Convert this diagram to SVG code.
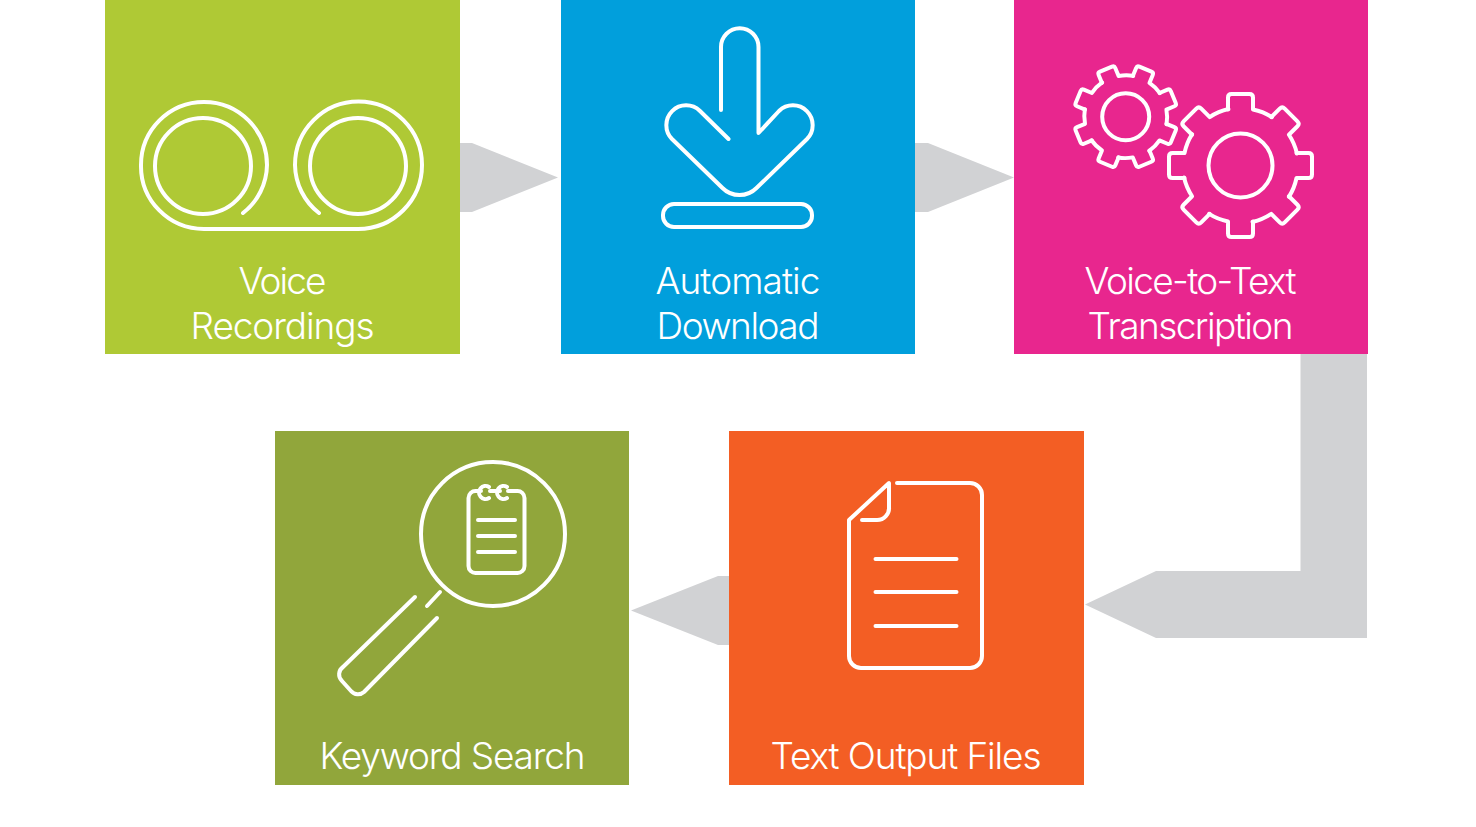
<svg xmlns="http://www.w3.org/2000/svg" width="1476" height="827" viewBox="0 0 1476 827">
<style>
.label{font-family:"Inter","Liberation Sans",sans-serif;font-weight:300;font-size:37px;fill:#fff;text-anchor:middle}
.ic{fill:none;stroke:#fff;stroke-width:4;stroke-linecap:round;stroke-linejoin:round}
.ar{fill:#d1d2d4}
</style>
<defs>
<path id="sector" d="M-12.5,-56 L-12.5,-68 Q-12.5,-71.5 -9,-71.5 L9,-71.5 Q12.5,-71.5 12.5,-68 L12.5,-56 A57 57 0 0 1 31.4,-48.4"/>
</defs>
<rect width="1476" height="827" fill="#fff"/>
<g id="connectors">
<polygon class="ar" points="460,143 472,143 558,177.500 472,212 460,212"/>
<polygon class="ar" points="915,143 928,143 1014,177.500 928,212 915,212"/>
<polygon class="ar" points="1300.500,354 1367,354 1367,638 1156,638 1085,604.500 1156,571 1300.500,571"/>
<polygon class="ar" points="729,576 718,576 631,610.500 718,645 729,645"/>
</g>
<g id="voice-recordings">
<rect x="105" y="0" width="355" height="354" fill="#afc935"/>
<path class="ic" d="M243,213 A62,62 0 0 0 267,165 A63,63 0 0 0 141,165 A63,63 0 0 0 204,229 L358,229 A64,64 0 0 0 422,165 A63.500,63.500 0 0 0 295,165 A62,62 0 0 0 319,213"/>
<circle class="ic" cx="203" cy="166" r="48"/>
<circle class="ic" cx="358" cy="166" r="48"/>
<text class="label" x="282.500" y="294" textLength="88">Voice</text>
<text class="label" x="282.500" y="339" textLength="184">Recordings</text>
</g>
<g id="automatic-download">
<rect x="561" y="0" width="354" height="354" fill="#019fdc"/>
<path class="ic" d="M721,110 L721,47 A18.750,18.750 0 0 1 758.500,47 L758.500,133 L779,111 A19.800,19.800 0 0 1 807,139 L756.500,188 A24,24 0 0 1 722.500,188 L672,139 A19.800,19.800 0 0 1 700,111 L728.500,139"/>
<rect class="ic" x="663" y="204" width="149" height="23" rx="11"/>
<text class="label" x="738" y="294" textLength="165">Automatic</text>
<text class="label" x="738" y="339" textLength="163">Download</text>
</g>
<g id="voice-to-text">
<rect x="1014" y="0" width="354" height="354" fill="#e8268e"/>
<g class="ic" transform="translate(1240.500,165.500)">
<use href="#sector"/>
<use href="#sector" transform="rotate(45)"/>
<use href="#sector" transform="rotate(90)"/>
<use href="#sector" transform="rotate(135)"/>
<use href="#sector" transform="rotate(180)"/>
<use href="#sector" transform="rotate(225)"/>
<use href="#sector" transform="rotate(270)"/>
<use href="#sector" transform="rotate(315)"/>
</g>
<circle class="ic" cx="1240.500" cy="165.500" r="32"/>
<g class="ic" style="stroke-width:5.500" transform="translate(1125.700,116.700) scale(0.72) rotate(22.500)">
<use href="#sector"/>
<use href="#sector" transform="rotate(45)"/>
<use href="#sector" transform="rotate(90)"/>
<use href="#sector" transform="rotate(135)"/>
<use href="#sector" transform="rotate(180)"/>
<use href="#sector" transform="rotate(225)"/>
<use href="#sector" transform="rotate(270)"/>
<use href="#sector" transform="rotate(315)"/>
</g>
<circle class="ic" cx="1125.700" cy="116.700" r="23.500"/>
<text class="label" x="1190.500" y="294" textLength="212">Voice-to-Text</text>
<text class="label" x="1190.500" y="339" textLength="206">Transcription</text>
</g>
<g id="text-output-files">
<rect x="729" y="431" width="355" height="354" fill="#f35e24"/>
<path class="ic" d="M897,483 L970,483 A12,12 0 0 1 982,495 L982,656 A12,12 0 0 1 970,668 L861,668 A12,12 0 0 1 849,656 L849,520 L889,483 L889,507 A12,12 0 0 1 877,520 L862,520"/>
<path class="ic" d="M875.500,559 L956.500,559 M875.500,592 L956.500,592 M875.500,626 L956.500,626"/>
<text class="label" x="906" y="769" textLength="271">Text Output Files</text>
</g>
<g id="keyword-search">
<rect x="275" y="431" width="354" height="354" fill="#91a63b"/>
<circle class="ic" cx="493" cy="534" r="72"/>
<path class="ic" d="M415,597 L343,667 A9,9 0 0 0 342,681 L351,691 A9,9 0 0 0 364,692 L437,618 M427,606 L440,592"/>
<path class="ic" d="M481,491 L476,491 A7,7 0 0 0 468.500,498 L468.500,566 A7,7 0 0 0 476,573 L517,573 A7,7 0 0 0 524.500,566 L524.500,498 A7,7 0 0 0 517,491 L508,491 M490,491 L500,491 M489,487 A6.500,6.500 0 1 0 489,498 M507,487 A6.500,6.500 0 1 0 507,498"/>
<path class="ic" d="M478,520 L515,520 M478,536 L515,536 M478,552 L515,552"/>
<text class="label" x="452.500" y="769" textLength="266">Keyword Search</text>
</g>
</svg>
